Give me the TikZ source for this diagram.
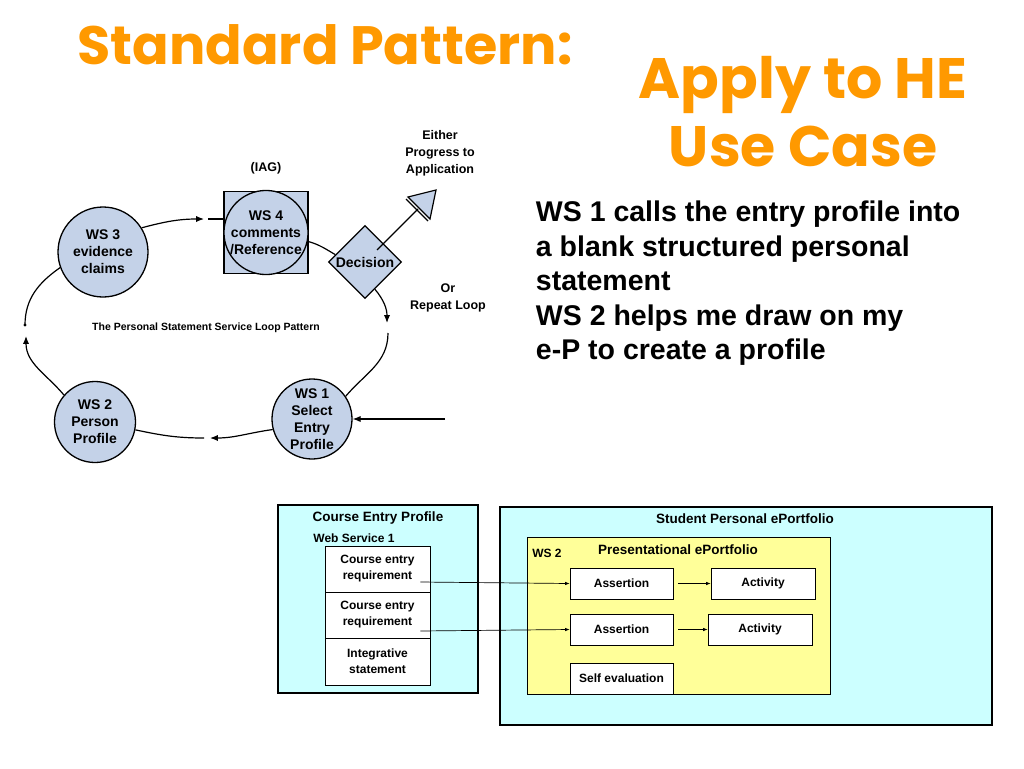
\documentclass[tikz,border=0pt]{standalone}
\usepackage{fontspec}
\setmainfont{Liberation Sans}
\newfontfamily\titlefont{Poppins}
\usetikzlibrary{arrows.meta, shapes.geometric, calc}
\definecolor{titleorange}{RGB}{255,153,0}
\definecolor{wsblue}{RGB}{196,210,232}
\definecolor{boxcyan}{RGB}{204,255,255}
\definecolor{boxyellow}{RGB}{255,255,153}
\tikzset{>={Latex[width=2.2mm,length=2.8mm]}}
\tikzset{
  wsnode/.style={circle, draw=black, line width=1.3pt, fill=wsblue, inner sep=0pt,
    align=center, font=\bfseries\fontsize{14}{17}\selectfont},
  looptext/.style={align=center, font=\bfseries\fontsize{12.5}{17}\selectfont},
  outerbox/.style={draw=black, line width=1.6pt, fill=boxcyan},
  itembox/.style={draw=black, line width=0.5pt, fill=white, align=center,
    font=\bfseries\fontsize{12}{16}\selectfont},
  boxtitle/.style={font=\bfseries\fontsize{13.5}{16}\selectfont},
  small/.style={->, line width=0.7pt, >={Latex[width=1.2mm,length=1.6mm]}}
}

\begin{document}
\begin{tikzpicture}[x=1pt, y=1pt, line width=1.2pt]
  \useasboundingbox[fill=white] (0,0) rectangle (1024,-768);

  % titles
  \node[text=titleorange, font=\titlefont\bfseries\fontsize{54}{62}\selectfont] (title) at (325,-45) {Standard Pattern:};
  \node[text=titleorange, font=\titlefont\bfseries\fontsize{57}{68}\selectfont, align=center] (apply) at (803,-112) {Apply to HE\\Use Case};
  \node[anchor=north west, align=left, font=\bfseries\fontsize{28.5}{34.5}\selectfont] (notes) at (532,-197)
    {WS 1 calls the entry profile into\\a blank structured personal\\statement\\WS 2 helps me draw on my\\e-P to create a profile};

  % service loop
  \node[wsnode, minimum size=90] (ws3) at (103,-252) {WS 3\\evidence\\claims};
  \node[draw=black, line width=1.3pt, fill=wsblue, minimum width=84, minimum height=82] (ws4box) at (266,-232.5) {};
  \node[wsnode, minimum size=80] (ws4) at (266,-232.5) {WS 4\\comments\\/Reference};
  \node[diamond, draw=black, line width=1.3pt, fill=wsblue, minimum size=73, inner sep=0pt] (dec) at (365,-262) {};
  \node[font=\bfseries\fontsize{14}{17}\selectfont] (declabel) at (dec) {Decision};
  \node[wsnode, minimum size=80] (ws1) at (312,-419) {WS 1\\Select\\Entry\\Profile};
  \node[wsnode, minimum size=81] (ws2) at (95,-422) {WS 2\\Person\\Profile};

  \node[looptext] (iag) at (266,-168) {(IAG)};
  \node[looptext] (either) at (440,-153) {Either\\Progress to\\Application};
  \node[looptext] (repeat) at (448,-298) {Or\\Repeat Loop};
  \node[font=\bfseries\fontsize{10.5}{12}\selectfont] (looptitle) at (206,-328) {The Personal Statement Service Loop Pattern};

  \coordinate (g1) at (204,-219);
  \coordinate (g2) at (208,-219);
  \coordinate (r1) at (387,-323);
  \coordinate (r2) at (388,-333);
  \coordinate (l1) at (210,-438);
  \coordinate (l2) at (204,-438);
  \coordinate (u1) at (26,-336);
  \coordinate (u2) at (25,-325);
  \coordinate (tb) at (418,-209);
  \coordinate (input) at (445,-419);

  \draw[->] (ws3.32) to[out=15,in=180] (g1);
  \draw (g2) -- (ws4box.west |- g2);
  \draw (ws4.-12) to[out=-15,in=150] (dec.166);
  \draw[->] (dec.-70) to[out=-50,in=90] (r1);
  \draw (r2) to[out=-90,in=50] (ws1.34);
  \draw[->] (ws1.195) to[out=188,in=0] (l1);
  \draw (l2) to[out=180,in=-12] (ws2.-11);
  \draw[->] (ws2.139) to[out=130,in=-90] (u1);
  \draw (u2) to[out=90,in=215] (ws3.200);
  \fill (u2) circle (1.6);
  \draw[->] (input) -- (ws1.east);

  % way out of the loop
  \draw ($(dec.center)+(12,12)$) -- (tb);
  \draw[fill=wsblue] (408,-197) -- (436,-190) -- (430,-219) -- cycle;
  \draw (406,-199) -- (428,-221);

  % course entry profile
  \node[outerbox, minimum width=200, minimum height=188] (cep) at (378,-599) {};
  \node[boxtitle] (ceptitle) at (378,-518) {Course Entry Profile};
  \node[font=\bfseries\fontsize{12}{14}\selectfont] (ws1label) at (354,-538) {Web Service 1};
  \node[itembox, minimum width=105, minimum height=46] (req1) at (377.5,-569) {Course entry\\requirement};
  \node[itembox, minimum width=105, minimum height=46] (req2) at (377.5,-615) {Course entry\\requirement};
  \node[itembox, minimum width=105, minimum height=47] (integ) at (377.5,-661.5) {Integrative\\statement};

  % student eportfolio
  \node[outerbox, minimum width=492, minimum height=218] (spe) at (746,-616) {};
  \node[boxtitle] (spetitle) at (745,-519) {Student Personal ePortfolio};
  \node[draw=black, line width=0.8pt, fill=boxyellow, minimum width=303, minimum height=157] (pres) at (678.5,-615.5) {};
  \node[font=\bfseries\fontsize{12}{14}\selectfont] (ws2label) at (547,-553) {WS 2};
  \node[boxtitle] (prestitle) at (678,-550) {Presentational ePortfolio};
  \node[itembox, minimum width=103, minimum height=31] (as1) at (621.5,-583.5) {Assertion};
  \node[itembox, minimum width=104, minimum height=31] (act1) at (763,-583.5) {Activity};
  \node[itembox, minimum width=103, minimum height=31] (as2) at (621.5,-629.5) {Assertion};
  \node[itembox, minimum width=104, minimum height=31] (act2) at (760,-629.5) {Activity};
  \node[itembox, minimum width=103, minimum height=31] (self) at (621.5,-678.5) {Self evaluation};

  \draw[small] ([xshift=-10pt,yshift=-13pt]req1.east) -- (as1.west);
  \draw[small] ([xshift=-10pt,yshift=-16pt]req2.east) -- (as2.west);
  \draw[small] ([xshift=5pt]as1.east) -- (act1.west);
  \draw[small] ([xshift=5pt]as2.east) -- (act2.west);
\end{tikzpicture}
\end{document}
